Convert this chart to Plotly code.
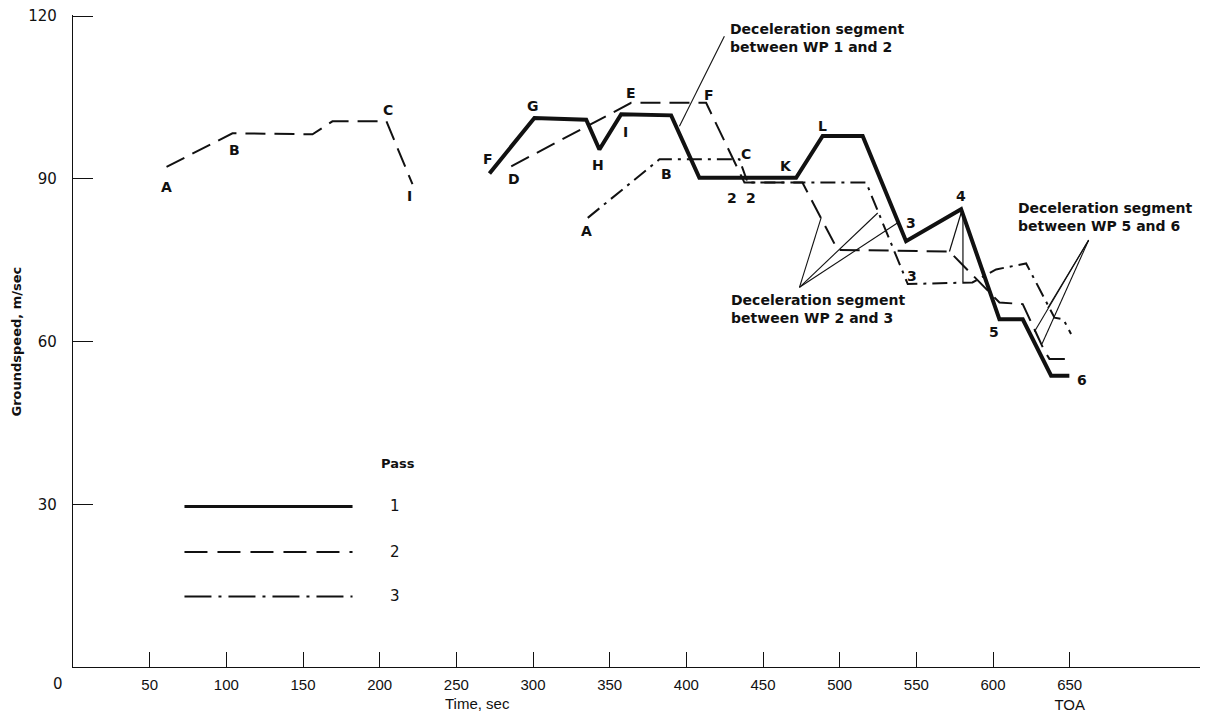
import plotly.graph_objects as go

# ---------------- data (time s, groundspeed m/s) ----------------
pass1_t = [271.6, 300.9, 334.7, 343.3, 357.5, 390.1, 408.5, 471.6, 488.9, 515.0,
           543.3, 579.2, 604.2, 619.4, 637.9, 649.8]
pass1_v = [91.0, 101.2, 100.9, 95.4, 101.9, 101.7, 90.2, 90.2, 97.9, 97.9,
           78.5, 84.4, 64.1, 64.1, 53.7, 53.7]

pass2a_t = [61.0, 104.0, 156.2, 169.2, 204.4, 221.4]
pass2a_v = [92.2, 98.4, 98.2, 100.6, 100.6, 89.0]

pass2b_t = [285.8, 364.0, 412.9, 437.9, 475.7, 498.7, 571.6, 604.2, 619.4, 633.5, 636.8, 648.7]
pass2b_v = [92.3, 104.0, 104.0, 89.3, 89.3, 76.9, 76.6, 67.2, 66.9, 58.3, 56.8, 56.8]
pass2_spike_t = [571.6, 579.2]
pass2_spike_v = [76.6, 83.7]

pass3_t = [335.7, 382.5, 434.6, 440.0, 517.3, 544.4, 586.6, 602.0, 621.6, 640.1, 645.9, 650.9]
pass3_v = [82.8, 93.6, 93.6, 89.3, 89.3, 70.6, 70.9, 73.3, 74.4, 64.4, 64.1, 61.4]
pass3_spike_t = [580.4, 580.4]
pass3_spike_v = [71.0, 84.0]

# point labels: (text, t, v)
point_labels = [
    ("A", 60.8, 88.5), ("B", 105.3, 95.4), ("C", 205.3, 102.6), ("I", 219.4, 86.8),
    ("F", 270.5, 93.6), ("G", 299.8, 103.4), ("H", 342.2, 92.5), ("I", 360.1, 98.7),
    ("K", 465.1, 92.4), ("L", 488.6, 99.7), ("3", 546.6, 81.9), ("4", 579.2, 86.8),
    ("5", 600.9, 61.7), ("6", 658.3, 53.0), ("2", 430.1, 86.5), ("2", 442.3, 86.5),
    ("D", 287.9, 89.9), ("E", 364.0, 105.8), ("F", 415.1, 105.5),
    ("A", 334.7, 80.4), ("B", 386.8, 90.8), ("C", 439.0, 94.5), ("3", 547.4, 72.1),
]

# callouts: text anchor (t, v) and pointer lines (apex -> ends)
callout_texts = [
    ("Deceleration segment<br>between WP 1 and 2", 427.4, 115.9),
    ("Deceleration segment<br>between WP 2 and 3", 428.1, 66.0),
    ("Deceleration segment<br>between WP 5 and 6", 615.2, 83.0),
]
callout_lines = [
    ((424.8, 116.3), [(395.5, 99.7)]),
    ((473.8, 70.0), [(487.9, 82.8), (524.8, 83.7), (537.9, 81.9)]),
    ((662.4, 78.7), [(635.7, 66.2), (627.0, 61.8), (632.0, 59.6)]),
]

x_ticks = [50, 100, 150, 200, 250, 300, 350, 400, 450, 500, 550, 600, 650]
x_ticktext = ["50", "100", "150", "200", "250", "300", "350", "400", "450", "500",
              "550", "600", "650<br>TOA"]
y_ticks = [30, 60, 90, 120]

legend_names = ["1", "2", "3"]
legend_v = [29.6, 21.2, 13.0]
legend_t = [72.7, 182.3]
legend_label_t = 209.7

BLACK = "#111111"
LBL_FONT = dict(family="DejaVu Sans", size=14, color=BLACK)
TICK_FONT = dict(family="Liberation Sans Narrow, Liberation Sans, sans-serif", size=15, color=BLACK)

fig = go.Figure()
fig.add_trace(go.Scatter(x=pass1_t, y=pass1_v, mode="lines",
                         line=dict(color=BLACK, width=4), showlegend=False))
for t, v in [(pass2a_t, pass2a_v), (pass2b_t, pass2b_v)]:
    fig.add_trace(go.Scatter(x=t, y=v, mode="lines",
                             line=dict(color=BLACK, width=2, dash="20px,9px"), showlegend=False))
fig.add_trace(go.Scatter(x=pass3_t, y=pass3_v, mode="lines",
                         line=dict(color=BLACK, width=2, dash="15px,6px,3px,6px"), showlegend=False))
for t, v in [(pass2_spike_t, pass2_spike_v), (pass3_spike_t, pass3_spike_v)]:
    fig.add_trace(go.Scatter(x=t, y=v, mode="lines",
                             line=dict(color=BLACK, width=1.2), showlegend=False))

annotations = []
for txt, t, v in point_labels:
    annotations.append(dict(x=t, y=v, text="<b>%s</b>" % txt, showarrow=False,
                            font=LBL_FONT, xanchor="center", yanchor="middle"))
for txt, t, v in callout_texts:
    annotations.append(dict(x=t, y=v, text="<b>%s</b>" % txt, showarrow=False, align="left",
                            font=LBL_FONT, xanchor="left", yanchor="middle"))

shapes = []
for apex, ends in callout_lines:
    for e in ends:
        shapes.append(dict(type="line", xref="x", yref="y", x0=apex[0], y0=apex[1],
                           x1=e[0], y1=e[1], line=dict(color=BLACK, width=1.1)))

# legend drawn as long sample lines
legend_styles = [dict(width=3, dash="solid"), dict(width=2, dash="23px,10px"),
                 dict(width=2, dash="27px,7px,3px,7px")]
for name, v, st in zip(legend_names, legend_v, legend_styles):
    shapes.append(dict(type="line", xref="x", yref="y", x0=legend_t[0], x1=legend_t[1],
                       y0=v, y1=v, line=dict(color=BLACK, **st)))
    annotations.append(dict(x=legend_label_t, y=v, text=name, showarrow=False,
                            font=dict(family="DejaVu Sans", size=15, color=BLACK)))
annotations.append(dict(x=legend_label_t + 2, y=37.5, text="<b>Pass</b>", showarrow=False,
                        font=dict(family="DejaVu Sans", size=13, color=BLACK)))

# axis titles and origin label
annotations.append(dict(xref="x", yref="paper", x=264, y=0, yshift=-36, yanchor="middle",
                        text="Time, sec", showarrow=False,
                        font=dict(family="Liberation Sans Narrow, Liberation Sans", size=15, color=BLACK)))
annotations.append(dict(xref="paper", yref="y", x=0, y=60, xshift=-56, xanchor="center",
                        yanchor="middle", textangle=-90,
                        text="<b>Groundspeed, m/sec</b>", showarrow=False,
                        font=dict(family="DejaVu Sans", size=13, color=BLACK)))
annotations.append(dict(xref="x", yref="paper", x=0, y=0, xshift=-15, yshift=-17,
                        xanchor="center", yanchor="middle", text="0",
                        showarrow=False, font=dict(family="DejaVu Sans", size=15, color=BLACK)))

fig.update_layout(
    width=1207, height=705,
    margin=dict(l=65, r=15, t=7, b=46, autoexpand=False),
    paper_bgcolor="white", plot_bgcolor="white",
    annotations=annotations, shapes=shapes,
    xaxis=dict(range=[0, 735], tickvals=x_ticks, ticktext=x_ticktext, ticks="inside",
               ticklen=15, tickwidth=1.2, tickcolor=BLACK, showline=True, linecolor=BLACK,
               linewidth=1.2, showgrid=False, zeroline=False, tickfont=TICK_FONT,
               ticklabelstandoff=4, automargin=False, ticklabeloverflow="allow"),
    yaxis=dict(range=[0, 120.2], tickvals=y_ticks, ticks="inside", ticklen=20, tickwidth=1.2,
               tickcolor=BLACK, showline=True, linecolor=BLACK, linewidth=1.2,
               showgrid=False, zeroline=False, ticklabelstandoff=12, automargin=False,
               ticklabeloverflow="allow",
               tickfont=dict(family="DejaVu Sans", size=15, color=BLACK)),
)

fig.write_html("out.html")
